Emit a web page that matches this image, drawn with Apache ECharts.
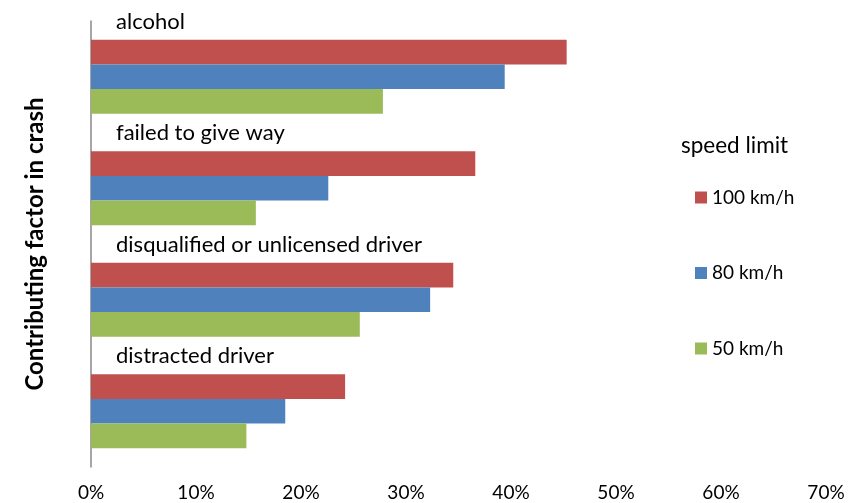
<!DOCTYPE html>
<html>
<head>
<meta charset="utf-8">
<script src="https://cdn.jsdelivr.net/npm/echarts@6/dist/echarts.min.js"></script>
<style>
  html, body { margin: 0; padding: 0; background: #ffffff; }
  #chart { width: 865px; height: 503px; }
</style>
</head>
<body>
<div id="chart"></div>
<script>
// categories, top to bottom
const factors = ['alcohol', 'failed to give way', 'disqualified or unlicensed driver', 'distracted driver'];
// share of crashes (%) per speed limit
const kmh100 = [45.3, 36.6, 34.5, 24.2];
const kmh80 = [39.4, 22.6, 32.3, 18.5];
const kmh50 = [27.8, 15.7, 25.6, 14.8];

const font = 'Lato, "Open Sans", sans-serif';

const chart = echarts.init(document.getElementById('chart'), null, { renderer: 'canvas' });

const option = {
  backgroundColor: '#ffffff',
  animation: false,
  color: ['#C0504D', '#4F81BD', '#9BBB59'],
  grid: { left: 91, right: 39, top: 21, bottom: 36 },
  graphic: [{
    type: 'text',
    left: 681,
    top: 134,
    style: { text: 'speed limit', fontSize: 22.5, fontFamily: font, fill: '#000' }
  }],
  legend: {
    orient: 'vertical',
    left: 690,
    top: 183,
    itemWidth: 12,
    itemHeight: 12,
    itemGap: 56.5,
    icon: 'rect',
    textStyle: { fontSize: 19, fontFamily: font, color: '#000' },
    data: ['100 km/h', '80 km/h', '50 km/h']
  },
  xAxis: {
    type: 'value',
    min: 0,
    max: 70,
    interval: 10,
    axisLine: { show: false },
    axisTick: { show: false },
    splitLine: { show: false },
    axisLabel: { formatter: '{value}%', fontSize: 19, fontFamily: font, color: '#000', margin: 16 }
  },
  yAxis: {
    type: 'category',
    inverse: true,
    data: factors,
    name: 'Contributing factor in crash',
    nameLocation: 'middle',
    nameRotate: 90,
    nameGap: 44,
    nameTextStyle: { fontSize: 24, fontWeight: 'bold', fontFamily: font, color: '#000' },
    axisLine: { show: true, lineStyle: { color: '#888888', width: 1.5 } },
    axisTick: { show: false },
    axisLabel: { show: false }
  },
  series: [
    {
      name: '100 km/h', type: 'bar', data: kmh100, barWidth: 24.7, barGap: '0%',
      label: {
        show: true,
        position: [25, -18],
        align: 'left',
        verticalAlign: 'middle',
        formatter: p => p.name,
        fontSize: 22,
        fontFamily: font,
        color: '#000'
      }
    },
    { name: '80 km/h', type: 'bar', data: kmh80, barWidth: 24.7, barGap: '0%' },
    { name: '50 km/h', type: 'bar', data: kmh50, barWidth: 24.7, barGap: '0%' }
  ]
};

chart.setOption(option);
</script>
</body>
</html>
